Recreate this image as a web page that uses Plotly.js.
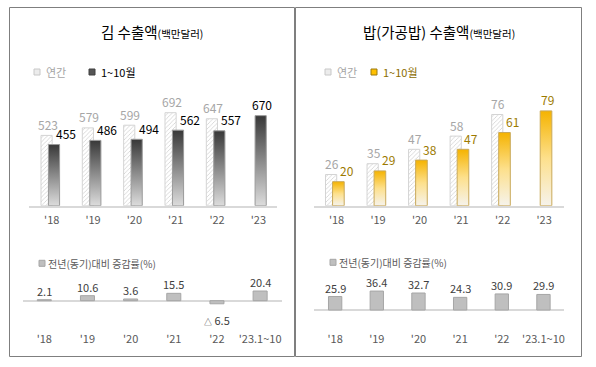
<!DOCTYPE html>
<html>
<head>
<meta charset="utf-8">
<script src="https://cdn.plot.ly/plotly-3.0.1.min.js"></script>
<style>
html,body{margin:0;padding:0;background:#fff;}
#chart{width:596px;height:367px;}
</style>
</head>
<body>
<div id="chart"></div>
<script>
// ---- data ----
const years = ["'18", "'19", "'20", "'21", "'22", "'23"];
const growthLabels = ["'18", "'19", "'20", "'21", "'22", "'23.1~10"];
const gimAnnual = [523, 579, 599, 692, 647, null];
const gimJanOct = [455, 486, 494, 562, 557, 670];
const gimGrowth = [2.1, 10.6, 3.6, 15.5, -6.5, 20.4];
const riceAnnual = [26, 35, 47, 58, 76, null];
const riceJanOct = [20, 29, 38, 47, 61, 79];
const riceGrowth = [25.9, 36.4, 32.7, 24.3, 30.9, 29.9];
const seriesNames = ['연간', '1~10월'];
const growthName = '전년(동기)대비 증감률(%)';
const titles = ['김 수출액', '밥(가공밥) 수출액'];
const unitText = '(백만달러)';

// ---- helpers ----
const W = 596, H = 367;
const px = v => v / W;
const py = v => 1 - v / H;
const FONT = '"Noto Sans CJK KR", "Noto Sans", sans-serif';

const ANN_OFF = -0.26, ANN_W = 0.27, MON_OFF = -0.08, MON_W = 0.27;
const hatch = {shape: '/', fgcolor: '#c8c8c8', bgcolor: '#ffffff', size: 3, solidity: 0.22};

const data = [
  {type: 'bar', x: years, y: gimAnnual, xaxis: 'x', yaxis: 'y', offset: ANN_OFF, width: ANN_W,
   marker: {color: '#ffffff', pattern: hatch, line: {color: '#d4d4d4', width: 1}}, showlegend: false},
  {type: 'bar', x: years, y: gimJanOct, xaxis: 'x', yaxis: 'y', offset: MON_OFF, width: MON_W, meta: 'gradDark',
   marker: {color: '#7a7a7a', line: {color: '#9a9a9a', width: 1}}, showlegend: false},
  {type: 'bar', x: growthLabels, y: gimGrowth, xaxis: 'x2', yaxis: 'y2', width: 0.325,
   marker: {color: '#bfbfbf', line: {color: '#a6a6a6', width: 1}}, showlegend: false},
  {type: 'bar', x: years, y: riceAnnual, xaxis: 'x3', yaxis: 'y3', offset: ANN_OFF - 0.005, width: ANN_W,
   marker: {color: '#ffffff', pattern: hatch, line: {color: '#d4d4d4', width: 1}}, showlegend: false},
  {type: 'bar', x: years, y: riceJanOct, xaxis: 'x3', yaxis: 'y3', offset: MON_OFF - 0.015, width: MON_W + 0.01, meta: 'gradGold',
   marker: {color: '#f7c430', line: {color: '#c9a95a', width: 1}}, showlegend: false},
  {type: 'bar', x: growthLabels, y: riceGrowth, xaxis: 'x4', yaxis: 'y4', width: 0.32,
   marker: {color: '#bfbfbf', line: {color: '#a6a6a6', width: 1}}, showlegend: false}
];

const tickFont = {family: FONT, size: 11, color: '#595959'};
function xAx(dom, range, anchor, line, cats) {
  return {type: 'category', domain: dom, range: range, anchor: anchor, showgrid: false, zeroline: false,
    showline: line, linecolor: '#d9d9d9', linewidth: 2, ticks: '', tickfont: tickFont,
    categoryorder: 'array', categoryarray: cats, fixedrange: true, ticklabelstandoff: line ? 3 : 1};
}
function yAx(dom, range, anchor, zl) {
  return {domain: dom, range: range, anchor: anchor, showgrid: false, showticklabels: false, ticks: '',
    showline: false, zeroline: zl, zerolinecolor: '#d9d9d9', zerolinewidth: 2, fixedrange: true};
}

const topDom = [py(205.7), py(95)];
const botDom = [py(330), py(270)];

const layout = {
  width: W, height: H, margin: {l: 0, r: 0, t: 0, b: 0},
  paper_bgcolor: '#ffffff', plot_bgcolor: 'rgba(0,0,0,0)',
  barmode: 'overlay', showlegend: false,
  font: {family: FONT, color: '#404040'},
  xaxis: xAx([px(29), px(277)], [-0.55, 5.45], 'y', true, years),
  yaxis: yAx(topDom, [0, 110.7 / 0.1344], 'x', false),
  xaxis2: xAx([px(22.7), px(281.7)], [-0.5, 5.5], 'y2', false, growthLabels),
  yaxis2: yAx(botDom, [-0.4883 * 60 / 0.475, 0.5117 * 60 / 0.475], 'x2', true),
  xaxis3: xAx([px(314.3), px(564.3)], [-0.535, 5.485], 'y3', true, years),
  yaxis3: yAx(topDom, [0, 110.7 / 1.2], 'x3', false),
  xaxis4: xAx([px(314.3), px(564.3)], [-0.5, 5.5], 'y4', false, growthLabels),
  yaxis4: yAx(botDom, [-(20 / 0.52), 40 / 0.52], 'x4', true),
  shapes: [], annotations: []
};

// panel frames
layout.shapes.push({type: 'rect', xref: 'paper', yref: 'paper', x0: px(9.5), x1: px(294.5), y0: py(356.5), y1: py(7.5), line: {color: '#7f7f7f', width: 1}});
layout.shapes.push({type: 'rect', xref: 'paper', yref: 'paper', x0: px(295.5), x1: px(581.5), y0: py(356.5), y1: py(7.5), line: {color: '#7f7f7f', width: 1}});

// legend swatches + texts
function swatch(cx, cy, fill, line) {
  layout.shapes.push({type: 'rect', xref: 'paper', yref: 'paper', x0: px(cx - 3), x1: px(cx + 3), y0: py(cy + 3), y1: py(cy - 3),
    fillcolor: fill, line: {color: line, width: 1}});
}
function label(x, y, text, size, color, anchor) {
  layout.annotations.push({xref: 'paper', yref: 'paper', x: px(x), y: py(y), text: text, showarrow: false,
    xanchor: anchor || 'left', yanchor: 'middle', font: {family: FONT, size: size, color: color}});
}
swatch(37, 72, '#ececec', '#c8c8c8'); label(44, 72, seriesNames[0], 11, '#a6a6a6');
swatch(92, 72, '#555555', '#404040'); label(99, 72, seriesNames[1], 11, '#000000');
swatch(328, 72, '#ececec', '#c8c8c8'); label(335, 72, seriesNames[0], 11, '#a6a6a6');
swatch(374, 72, '#ffc000', '#9c7a10'); label(381, 72, seriesNames[1], 11, '#8c6d00');
swatch(42, 263.3, '#bfbfbf', '#a6a6a6'); label(46, 263.3, growthName, 10, '#595959');
swatch(333, 262.3, '#bfbfbf', '#a6a6a6'); label(337, 262.3, growthName, 10, '#595959');

// titles
label(152, 32, titles[0] + '<span style="font-size:10.5px">' + unitText + '</span>', 14.5, '#000000', 'center');
label(438.5, 32, titles[1] + '<span style="font-size:10.5px">' + unitText + '</span>', 14.5, '#000000', 'center');

// value labels on top charts
function topLabels(ann, mon, xa, ya, annColor, monColor, monShift) {
  const ac = ANN_OFF + ANN_W / 2, mc = MON_OFF + MON_W / 2;
  ann.forEach((v, i) => {
    if (v == null) return;
    layout.annotations.push({xref: xa, yref: ya, x: i + ac, y: v, text: String(v), showarrow: false,
      xanchor: 'center', yanchor: 'middle', yshift: 11, xshift: 1, font: {family: FONT, size: 12, color: annColor}});
  });
  mon.forEach((v, i) => {
    if (v == null) return;
    const solo = ann[i] == null;
    layout.annotations.push({xref: xa, yref: ya, x: i + mc, y: v, text: String(v), showarrow: false,
      xanchor: 'center', yanchor: 'middle', yshift: 11, xshift: solo ? 1.5 : monShift, font: {family: FONT, size: 12, color: monColor}});
  });
}
topLabels(gimAnnual, gimJanOct, 'x', 'y', '#a6a6a6', '#000000', 12);
topLabels(riceAnnual, riceJanOct, 'x3', 'y3', '#a6a6a6', '#9c7a00', 8);

// value labels on growth charts
function growthLabelsAnn(vals, xa, ya) {
  vals.forEach((v, i) => {
    const neg = v < 0;
    layout.annotations.push({xref: xa, yref: ya, x: i, y: v,
      text: neg ? '<span style="font-size:8px">△</span> ' + Math.abs(v).toFixed(1) : v.toFixed(1),
      showarrow: false, xanchor: 'center', yanchor: 'middle', yshift: neg ? -16 : 9,
      font: {family: FONT, size: 11, color: '#404040'}});
  });
}
growthLabelsAnn(gimGrowth, 'x2', 'y2');
growthLabelsAnn(riceGrowth, 'x4', 'y4');

Plotly.newPlot('chart', data, layout, {staticPlot: true, displayModeBar: false}).then(gd => {
  const ns = 'http://www.w3.org/2000/svg';
  const defs = gd.querySelector('svg.main-svg defs');
  function addGrad(id, stops) {
    const lg = document.createElementNS(ns, 'linearGradient');
    lg.setAttribute('id', id);
    lg.setAttribute('x1', '0'); lg.setAttribute('y1', '0');
    lg.setAttribute('x2', '0'); lg.setAttribute('y2', '1');
    stops.forEach(([o, c]) => {
      const s = document.createElementNS(ns, 'stop');
      s.setAttribute('offset', o); s.setAttribute('stop-color', c);
      lg.appendChild(s);
    });
    defs.appendChild(lg);
  }
  addGrad('gradDark', [['0', '#383838'], ['0.5', '#8a8a8a'], ['1', '#dcdcdc']]);
  addGrad('gradGold', [['0', '#f5b300'], ['0.5', '#fde08c'], ['1', '#f6f3ec']]);
  gd.querySelectorAll('g.trace.bars').forEach(g => {
    const cd = g.__data__;
    const tr = cd && cd[0] && cd[0].trace;
    if (tr && typeof tr.meta === 'string' && tr.meta.indexOf('grad') === 0) {
      g.querySelectorAll('path').forEach(p => { p.style.fill = 'url(#' + tr.meta + ')'; });
    }
  });
});
</script>
</body>
</html>
